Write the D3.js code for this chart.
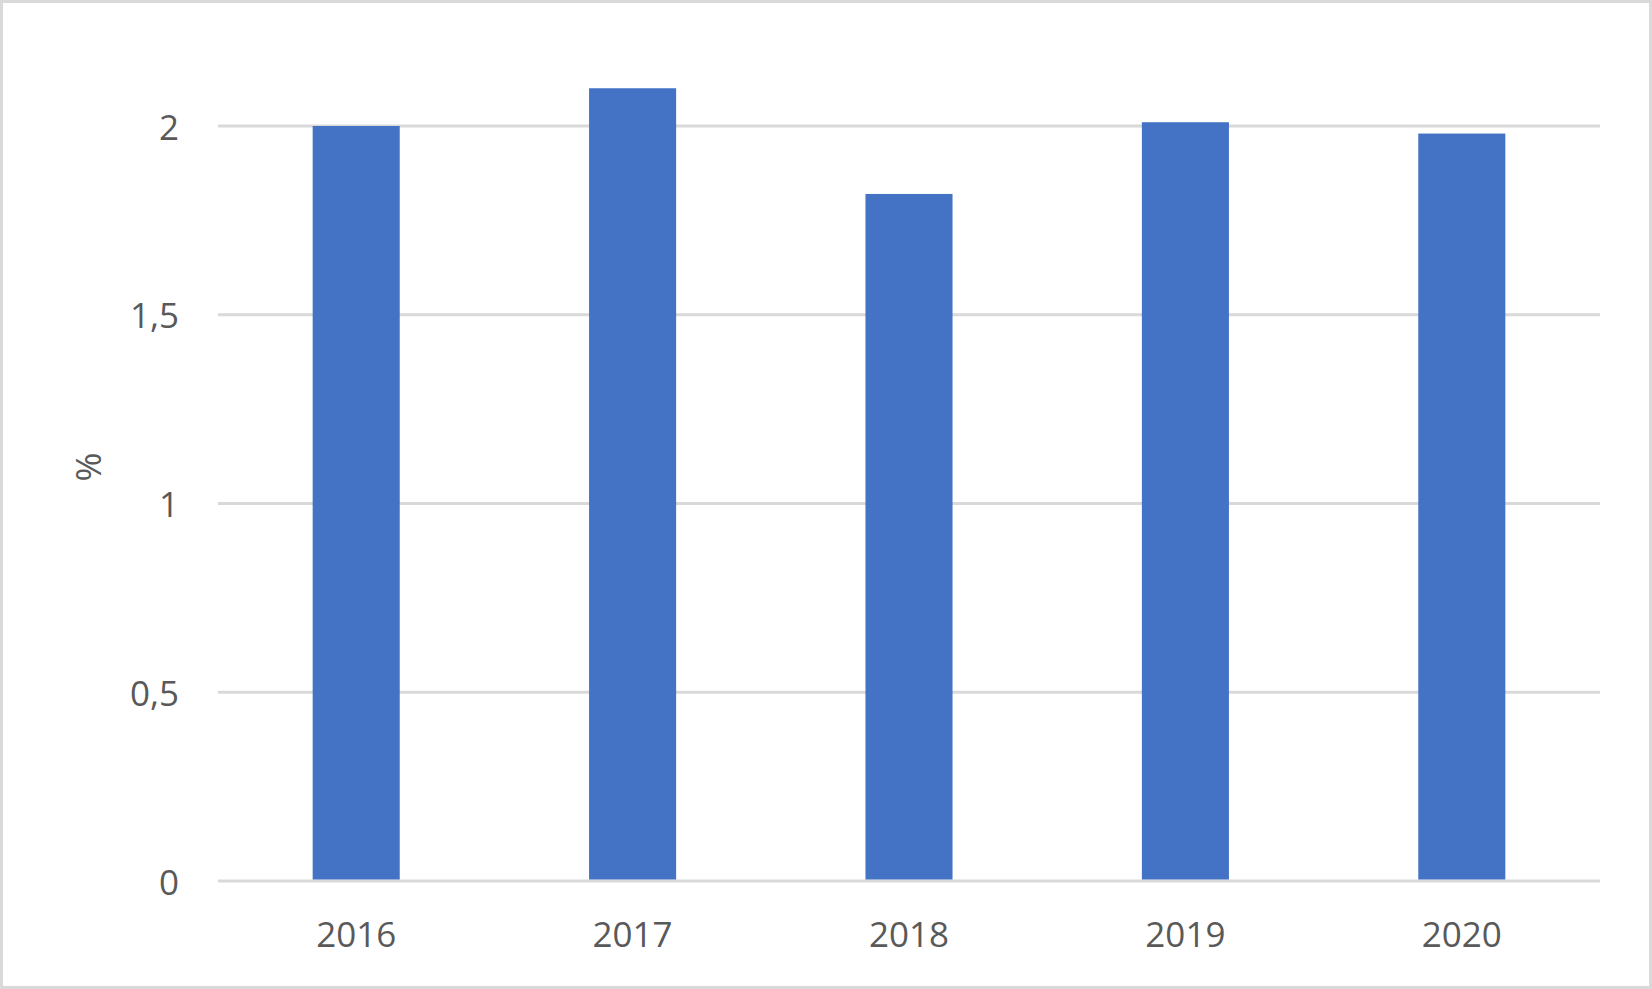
<!DOCTYPE html>
<html>
<head>
<meta charset="utf-8">
<script src="https://cdn.jsdelivr.net/npm/d3@7"></script>
<style>
  html, body { margin: 0; padding: 0; background: #fff; }
  svg { display: block; }
  text { font-family: "Open Sans", "Noto Sans", sans-serif; fill: #595959; }
</style>
</head>
<body>
<script>
const categories = ["2016", "2017", "2018", "2019", "2020"];
const values = [2.0, 2.1, 1.82, 2.01, 1.98];
const yTicks = [0, 0.5, 1, 1.5, 2];
const yTickLabels = ["0", "0,5", "1", "1,5", "2"];
const yAxisTitle = "%";

(function () {
const W = 1652, H = 989;
const svg = d3.select("body").append("svg").attr("width", W).attr("height", H);

svg.append("rect").attr("x", 1.5).attr("y", 1.5).attr("width", W - 3).attr("height", H - 3)
  .attr("fill", "#fff").attr("stroke", "#d9d9d9").attr("stroke-width", 3);

const plotLeft = 218, plotRight = 1600, plotTop = 126, plotBottom = 881;
const y = d3.scaleLinear().domain([0, 2]).range([plotBottom, plotTop]);
const x = d3.scaleBand().domain(categories).range([plotLeft, plotRight]).paddingInner(0.685).paddingOuter(0.3425);

// gridlines
svg.append("g").selectAll("line").data(yTicks).join("line")
  .attr("x1", plotLeft).attr("x2", plotRight)
  .attr("y1", d => y(d)).attr("y2", d => y(d))
  .attr("stroke", "#d9d9d9").attr("stroke-width", 3);

// bars
svg.append("g").selectAll("rect").data(values).join("rect")
  .attr("x", (d, i) => x(categories[i]))
  .attr("width", x.bandwidth())
  .attr("y", d => y(d))
  .attr("height", d => y(0) - y(d) - 1.5)
  .attr("fill", "#4472c4");

// y tick labels
svg.append("g").selectAll("text").data(yTicks).join("text")
  .attr("x", 179).attr("y", d => y(d))
  .attr("text-anchor", "end").attr("dominant-baseline", "central")
  .attr("font-size", 35)
  .text((d, i) => yTickLabels[i]);

// x labels
svg.append("g").selectAll("text").data(categories).join("text")
  .attr("x", d => x(d) + x.bandwidth() / 2).attr("y", 933)
  .attr("text-anchor", "middle").attr("dominant-baseline", "central")
  .attr("font-size", 35)
  .text(d => d);

// axis title
svg.append("text")
  .attr("transform", "translate(87,467) rotate(-90)")
  .attr("text-anchor", "middle").attr("dominant-baseline", "central")
  .attr("font-size", 35)
  .text(yAxisTitle);
})();
</script>
</body>
</html>
